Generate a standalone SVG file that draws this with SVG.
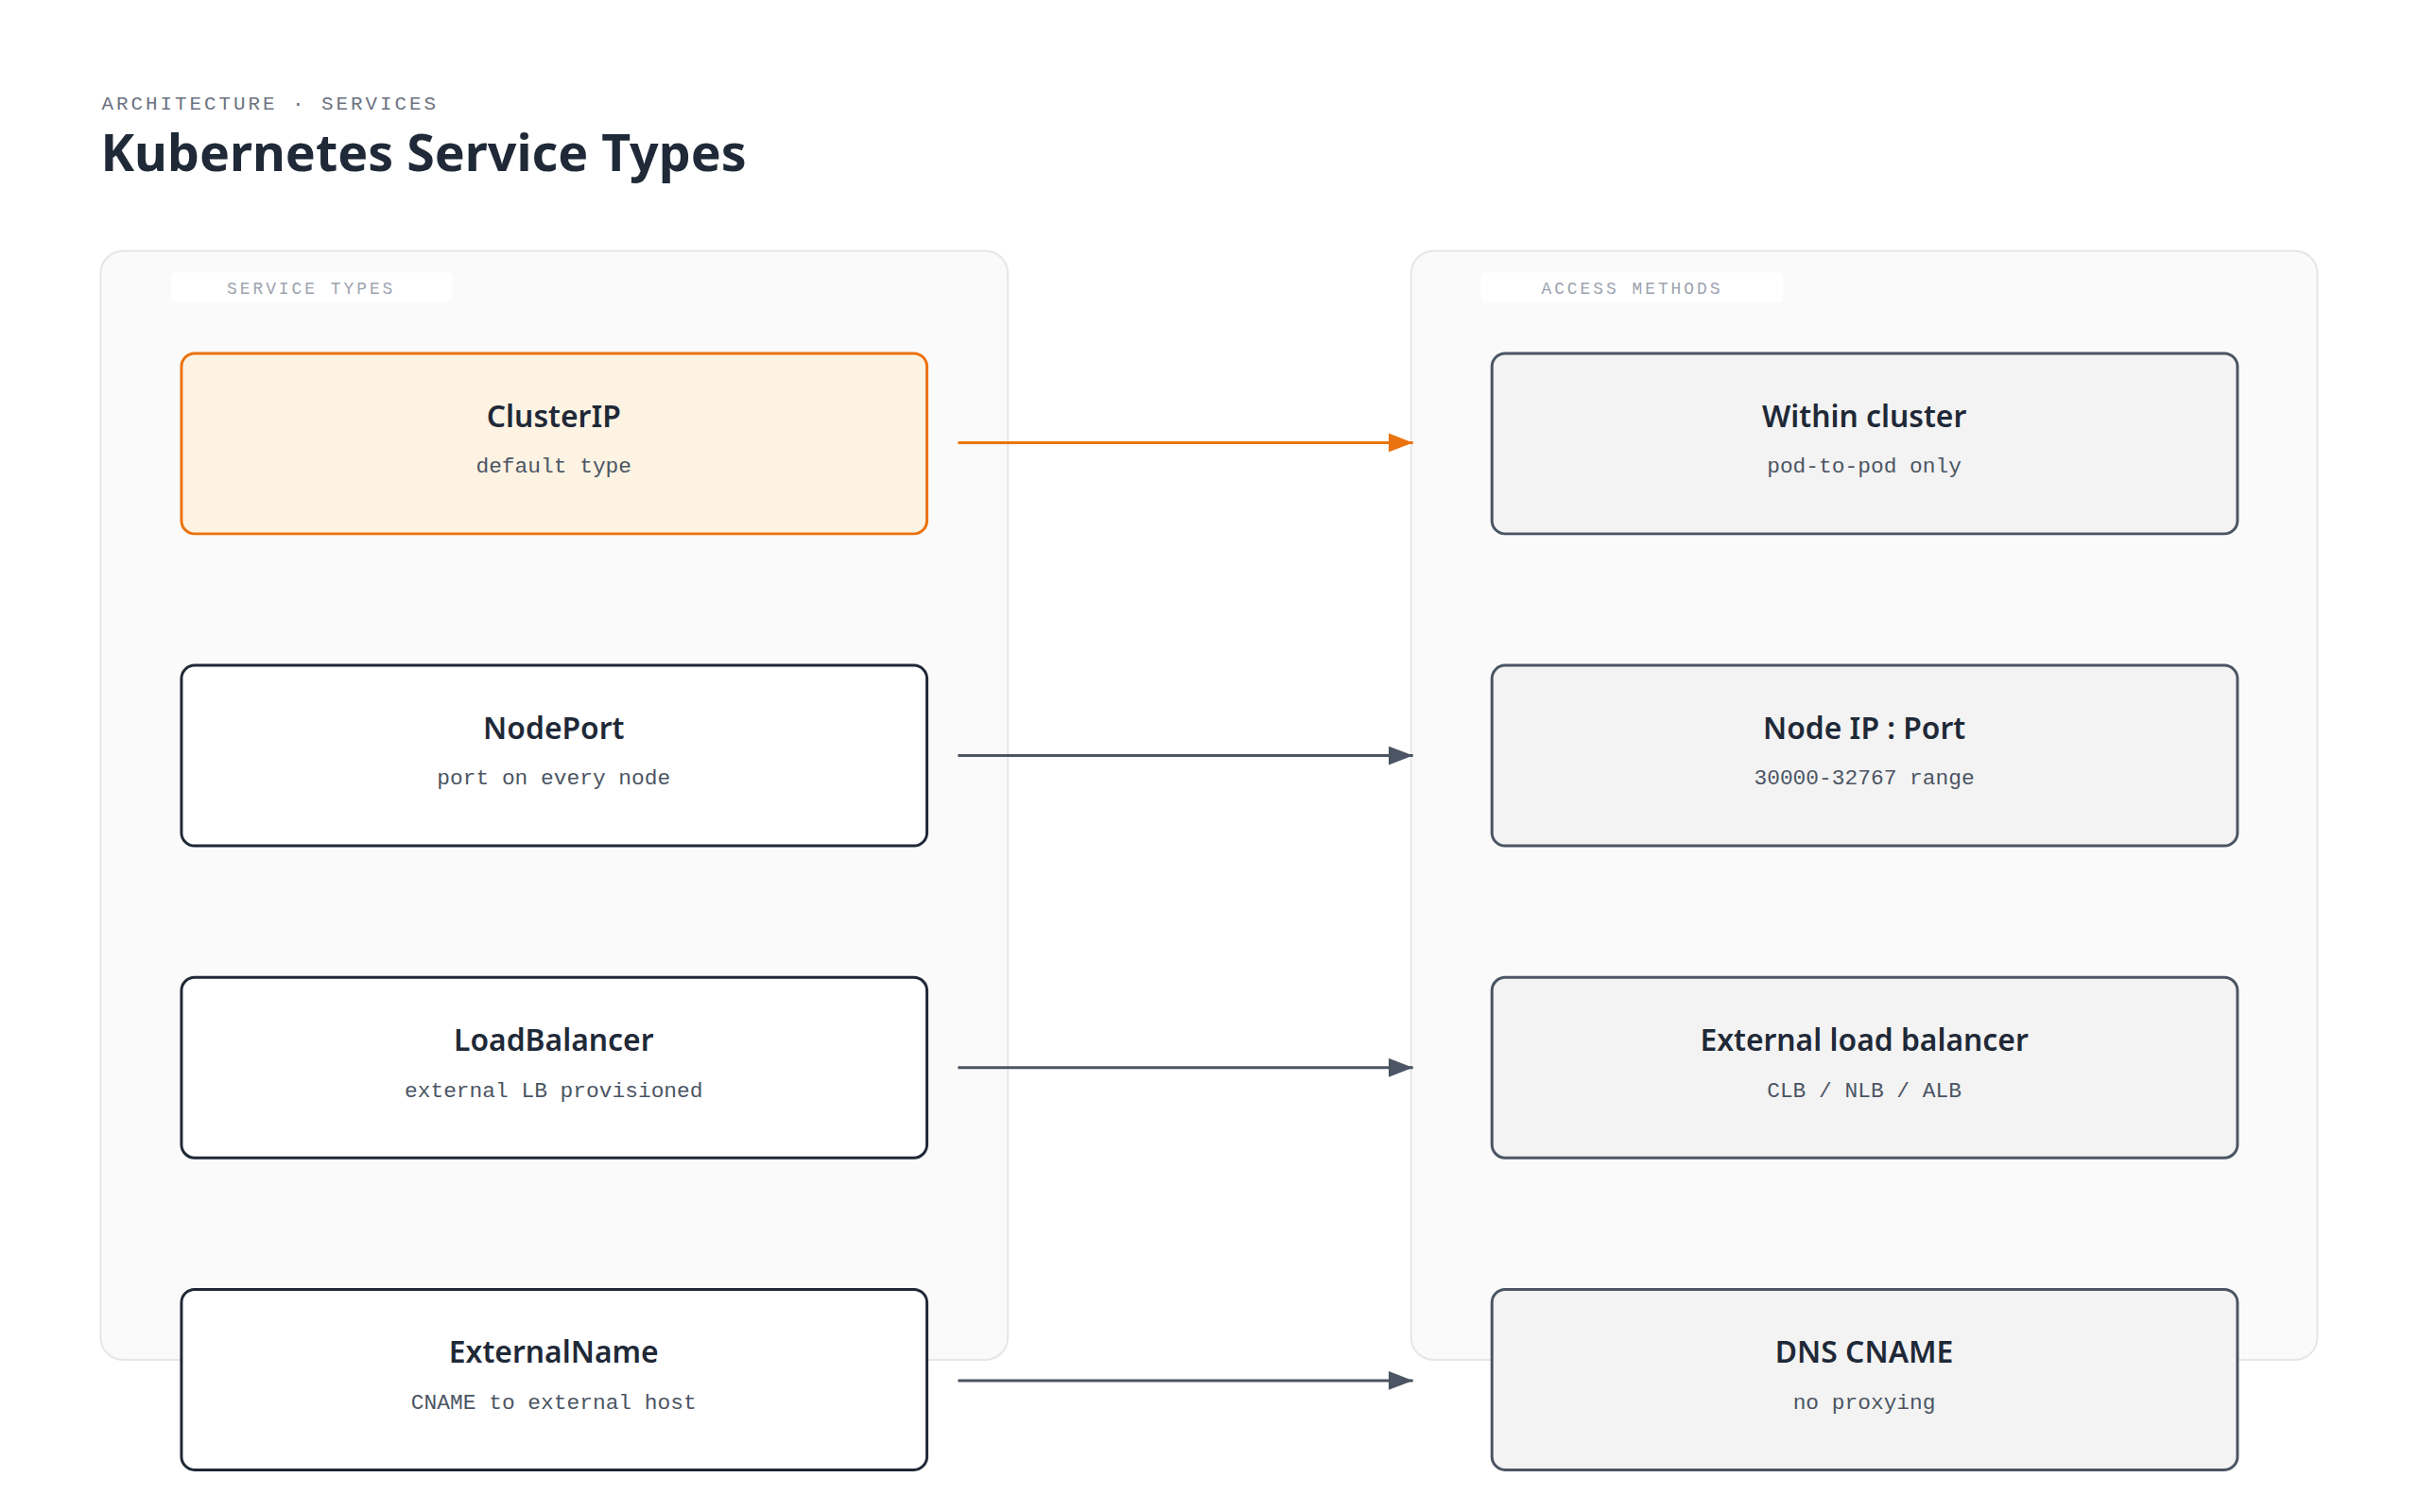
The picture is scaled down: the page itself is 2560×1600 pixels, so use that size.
<svg xmlns="http://www.w3.org/2000/svg" width="2560" height="1600" viewBox="0 0 2560 1600">
<defs>
<style>
.panel{fill:#fafafa;stroke:#e6e6e6;stroke-width:2}
.pill{fill:#ffffff}
.plabel{font-family:"Liberation Mono",monospace;font-size:18px;fill:#9ca3af;letter-spacing:3px;text-anchor:middle}
.t{font-family:"Noto Sans",sans-serif;font-weight:600;font-size:32px;fill:#1f2937;text-anchor:middle}
.s{font-family:"Liberation Mono",monospace;font-size:23px;fill:#4b5563;text-anchor:middle}
.svc{fill:#ffffff;stroke:#1f2937;stroke-width:3}
.hot{fill:#fdf3e3;stroke:#ea730f;stroke-width:3}
.acc{fill:#f3f3f3;stroke:#4b5563;stroke-width:3}
.c{stroke:#4b5563;stroke-width:3;fill:none}
</style>
<marker id="ag" viewBox="0 0 10 10" refX="10" refY="5" markerWidth="26" markerHeight="20" markerUnits="userSpaceOnUse" orient="auto" preserveAspectRatio="none"><path d="M0,0L10,5L0,10z" fill="#4b5563"/></marker>
<marker id="ao" viewBox="0 0 10 10" refX="10" refY="5" markerWidth="26" markerHeight="20" markerUnits="userSpaceOnUse" orient="auto" preserveAspectRatio="none"><path d="M0,0L10,5L0,10z" fill="#ea730f"/></marker>
</defs>
<rect width="2560" height="1600" fill="#ffffff"/>
<g transform="scale(0.9945)">
<text x="108" y="117" font-family="Liberation Mono,monospace" font-size="21" fill="#6b7280" letter-spacing="3">ARCHITECTURE · SERVICES</text>
<text x="107" y="182" font-family="Noto Sans,sans-serif" font-weight="700" font-size="54" fill="#1f2937">Kubernetes Service Types</text>
<g id="panel-left"><rect class="panel" x="107" y="267" width="965" height="1180" rx="24"/><rect class="pill" x="182" y="290" width="299" height="32" rx="6"/><text class="plabel" x="331" y="313">SERVICE TYPES</text></g>
<g id="panel-right"><rect class="panel" x="1501" y="267" width="964" height="1180" rx="24"/><rect class="pill" x="1575" y="290" width="322" height="32" rx="6"/><text class="plabel" x="1736" y="313">ACCESS METHODS</text></g>
<g id="connectors">
<path d="M1019 471H1503" stroke="#ea730f" stroke-width="3" fill="none" marker-end="url(#ao)"/>
<path class="c" d="M1019 804H1503" marker-end="url(#ag)"/>
<path class="c" d="M1019 1136H1503" marker-end="url(#ag)"/>
<path class="c" d="M1019 1469H1503" marker-end="url(#ag)"/>
</g>
<g id="clusterip"><rect class="hot" x="193" y="376" width="793" height="192" rx="14"/><text class="t" x="589" y="454">ClusterIP</text><text class="s" x="589" y="503">default type</text></g>
<g id="nodeport"><rect class="svc" x="193" y="708" width="793" height="192" rx="14"/><text class="t" x="589" y="786">NodePort</text><text class="s" x="589" y="835">port on every node</text></g>
<g id="loadbalancer"><rect class="svc" x="193" y="1040" width="793" height="192" rx="14"/><text class="t" x="589" y="1118">LoadBalancer</text><text class="s" x="589" y="1167">external LB provisioned</text></g>
<g id="externalname"><rect class="svc" x="193" y="1372" width="793" height="192" rx="14"/><text class="t" x="589" y="1450">ExternalName</text><text class="s" x="589" y="1499">CNAME to external host</text></g>
<g id="within"><rect class="acc" x="1587" y="376" width="793" height="192" rx="14"/><text class="t" x="1983" y="454">Within cluster</text><text class="s" x="1983" y="503">pod-to-pod only</text></g>
<g id="nodeipport"><rect class="acc" x="1587" y="708" width="793" height="192" rx="14"/><text class="t" x="1983" y="786">Node IP : Port</text><text class="s" x="1983" y="835">30000-32767 range</text></g>
<g id="extlb"><rect class="acc" x="1587" y="1040" width="793" height="192" rx="14"/><text class="t" x="1983" y="1118">External load balancer</text><text class="s" x="1983" y="1167">CLB / NLB / ALB</text></g>
<g id="dns"><rect class="acc" x="1587" y="1372" width="793" height="192" rx="14"/><text class="t" x="1983" y="1450">DNS CNAME</text><text class="s" x="1983" y="1499">no proxying</text></g>
</g>
</svg>
